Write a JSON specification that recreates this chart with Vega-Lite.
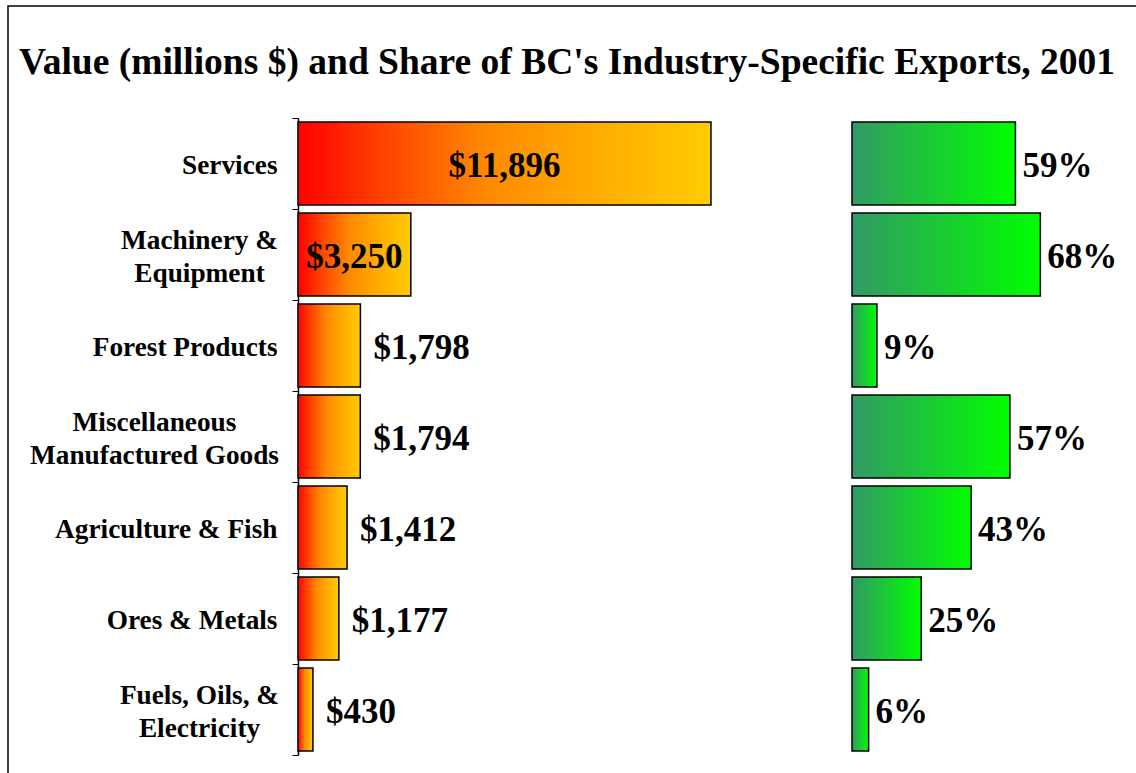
{
  "$schema": "https://vega.github.io/schema/vega-lite/v6.json",
  "width": 1140,
  "height": 780,
  "autosize": {"type": "none"},
  "padding": {"left": 8, "top": 6, "right": -12, "bottom": -13},
  "background": "white",
  "config": {"font": "Liberation Serif", "view": {"stroke": "black", "strokeWidth": 1.5}},
  "title": {
    "text": "Value (millions $) and Share of BC's Industry-Specific Exports, 2001",
    "font": "Liberation Serif", "fontSize": 37.5, "fontWeight": "bold", "color": "black",
    "anchor": "middle", "dx": -11, "dy": 51, "offset": -68, "baseline": "alphabetic"
  },
  "data": {"values": [
    {"category": "Services", "value": 11896, "share": 0.59},
    {"category": "Machinery & Equipment", "value": 3250, "share": 0.68},
    {"category": "Forest Products", "value": 1798, "share": 0.09},
    {"category": "Miscellaneous Manufactured Goods", "value": 1794, "share": 0.57},
    {"category": "Agriculture & Fish", "value": 1412, "share": 0.43},
    {"category": "Ores & Metals", "value": 1177, "share": 0.25},
    {"category": "Fuels, Oils, & Electricity", "value": 430, "share": 0.06}
  ]},
  "encoding": {
    "y": {
      "field": "category", "type": "nominal", "sort": null,
      "scale": {"range": [112, 749], "paddingInner": 0, "paddingOuter": 0},
      "axis": {
        "title": null, "offset": -290, "tickBand": "extent", "tickSize": 6,
        "tickColor": "black", "tickWidth": 1, "domainColor": "black", "domainWidth": 1.5,
        "grid": false,
        "labelFont": "Liberation Serif", "labelFontSize": 27.3, "labelFontWeight": "bold",
        "labelColor": "black", "labelLineHeight": 33, "labelLimit": 0,
        "labelBaseline": "middle",
        "labelAlign": {"condition": {"test": "datum.value == 'Machinery & Equipment' || datum.value == 'Miscellaneous Manufactured Goods' || datum.value == 'Fuels, Oils, & Electricity'", "value": "center"}, "value": "right"},
        "labelPadding": {"condition": [
          {"test": "datum.value == 'Miscellaneous Manufactured Goods'", "value": 138},
          {"test": "datum.value == 'Machinery & Equipment' || datum.value == 'Fuels, Oils, & Electricity'", "value": 93}
        ], "value": 15},
        "labelOffset": {"condition": {"test": "datum.value == 'Machinery & Equipment' || datum.value == 'Miscellaneous Manufactured Goods' || datum.value == 'Fuels, Oils, & Electricity'", "value": -14.5}, "value": 2},
        "labelExpr": "datum.label == 'Machinery & Equipment' ? ['Machinery &', 'Equipment'] : datum.label == 'Miscellaneous Manufactured Goods' ? ['Miscellaneous', 'Manufactured Goods'] : datum.label == 'Fuels, Oils, & Electricity' ? ['Fuels, Oils, &', 'Electricity'] : datum.label"
      }
    }
  },
  "layer": [
    {
      "encoding": {"x": {"field": "value", "type": "quantitative", "scale": {"domain": [0, 14000], "range": [290, 776]}, "axis": null}},
      "layer": [
        {"mark": {"type": "bar", "height": {"band": 0.91}, "stroke": "black", "strokeWidth": 1.5,
          "fill": {"gradient": "linear", "x1": 0, "x2": 1, "y1": 0, "y2": 0,
            "stops": [
              {"offset": 0, "color": "#ff0000"},
              {"offset": 0.2, "color": "#ff4000"},
              {"offset": 0.45, "color": "#ff8800"},
              {"offset": 0.7, "color": "#ffaa00"},
              {"offset": 1, "color": "#ffcc00"}]}}},
        {"transform": [{"filter": "datum.value > 3000"}],
          "mark": {"type": "text", "align": "center", "baseline": "middle", "dy": 2, "font": "Liberation Serif", "fontSize": 35, "fontWeight": "bold", "color": "black"},
          "encoding": {
            "x": {"field": "value", "type": "quantitative", "stack": "zero", "bandPosition": 0.5},
            "text": {"field": "value", "type": "quantitative", "format": "$,.0f"}}},
        {"transform": [{"filter": "datum.value <= 3000"}],
          "mark": {"type": "text", "align": "left", "baseline": "middle", "dx": 13, "dy": 2, "font": "Liberation Serif", "fontSize": 35, "fontWeight": "bold", "color": "black"},
          "encoding": {"text": {"field": "value", "type": "quantitative", "format": "$,.0f"}}}
      ]
    },
    {
      "encoding": {"x": {"field": "share", "type": "quantitative", "scale": {"domain": [0, 1], "range": [844, 1121]}, "axis": null}},
      "layer": [
        {"mark": {"type": "bar", "height": {"band": 0.91}, "stroke": "black", "strokeWidth": 1.5,
          "fill": {"gradient": "linear", "x1": 0, "x2": 1, "y1": 0, "y2": 0,
            "stops": [{"offset": 0, "color": "#339966"}, {"offset": 1, "color": "#00ff00"}]}}},
        {"mark": {"type": "text", "align": "left", "baseline": "middle", "dx": 7, "dy": 2, "font": "Liberation Serif", "fontSize": 35, "fontWeight": "bold", "color": "black"},
          "encoding": {"text": {"field": "share", "type": "quantitative", "format": ".0%"}}}
      ]
    }
  ],
  "resolve": {"scale": {"x": "independent"}}
}
